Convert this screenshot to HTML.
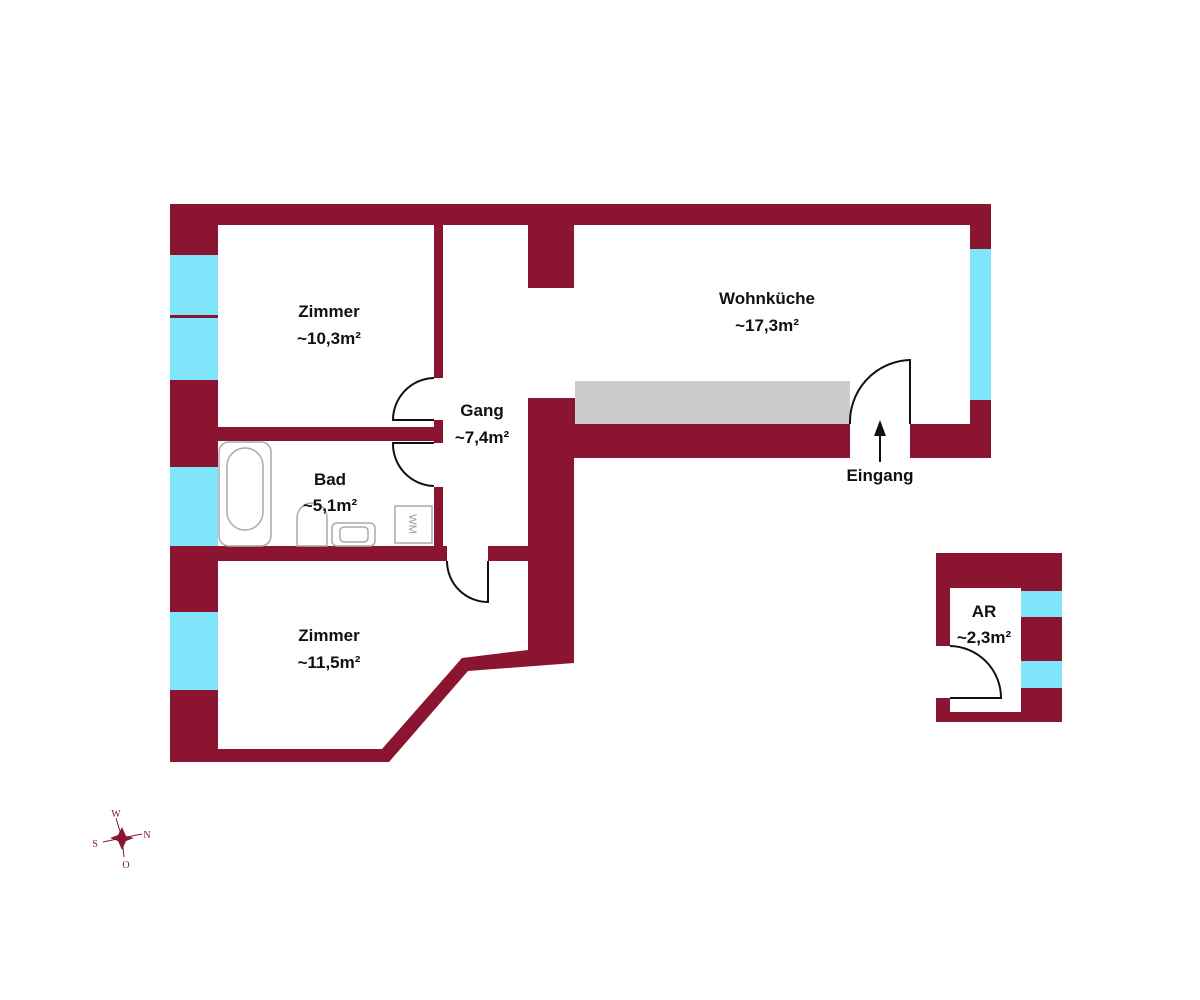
<!DOCTYPE html>
<html><head><meta charset="utf-8"><style>
html,body{margin:0;padding:0;background:#fff;}
svg{display:block;}
text{font-family:"Liberation Sans",sans-serif;font-weight:bold;font-size:17px;fill:#111;text-anchor:middle;}
</style></head><body>
<svg width="1200" height="1000" viewBox="0 0 1200 1000" xmlns="http://www.w3.org/2000/svg">
<rect width="1200" height="1000" fill="#fff"/>
<!-- walls -->
<polygon fill="#8B1530" points="170,204 991,204 991,458 574,458 574,663 468,671 389,762 170,762"/>
<!-- rooms -->
<g fill="#fff">
<rect x="218" y="225" width="216" height="202"/>
<rect x="218" y="441" width="216" height="105"/>
<polygon points="443,225 528,225 528,288 574,288 574,225 970,225 970,424 575,424 575,398 528,398 528,546 443,546"/>
<rect x="850" y="424" width="60" height="35"/>
<rect x="433" y="378" width="11" height="42"/>
<rect x="433" y="443" width="11" height="44"/>
<rect x="447" y="545" width="41" height="17"/>
<polygon points="218,561 528,561 528,650 462,658 382,749 218,749"/>
</g>
<!-- windows -->
<g fill="#80E5FA">
<rect x="170" y="255" width="48" height="60"/>
<rect x="170" y="318" width="48" height="62"/>
<rect x="170" y="467" width="48" height="79"/>
<rect x="170" y="612" width="48" height="78"/>
<rect x="970" y="249" width="21" height="151"/>
</g>
<!-- counter -->
<rect x="575" y="381" width="275" height="43" fill="#CCCCCC"/>
<!-- doors -->
<g fill="none" stroke="#111" stroke-width="2">
<path d="M434,378 A42,42 0 0 0 393,420 L434,420"/>
<path d="M434,443 L393,443 A42,42 0 0 0 434,486"/>
<path d="M447,561 A41,41 0 0 0 488,602 L488,561"/>
<path d="M850,424 A62,62 0 0 1 910,360 L910,424"/>
<path d="M950,646 A52,52 0 0 1 1001,698 L950,698"/>
</g>
<!-- arrow -->
<line x1="880" y1="462" x2="880" y2="432" stroke="#111" stroke-width="2"/>
<polygon points="880,420 874,436 886,436" fill="#111"/>
<!-- bath fixtures -->
<g fill="none" stroke="#aaa" stroke-width="1.5">
<rect x="219" y="442" width="52" height="104" rx="10"/>
<rect x="227" y="448" width="36" height="82" rx="18"/>
<path d="M297,546 L297,518 A15,15 0 0 1 327,518 L327,546 Z"/>
<rect x="332" y="523" width="43" height="23" rx="5"/>
<rect x="340" y="527" width="28" height="15" rx="4"/>
<rect x="395" y="506" width="37" height="37"/>
</g>
<text x="413" y="524" transform="rotate(90 413 524)" style="font-weight:normal;font-size:11px;fill:#999" dy="4">WM</text>
<!-- AR -->
<g>
<rect x="936" y="553" width="126" height="169" fill="#8B1530"/>
<rect x="950" y="588" width="71" height="124" fill="#fff"/>
<rect x="935" y="646" width="16" height="52" fill="#fff"/>
<rect x="1021" y="591" width="41" height="26" fill="#80E5FA"/>
<rect x="1021" y="661" width="41" height="27" fill="#80E5FA"/>
<path d="M950,646 A52,52 0 0 1 1001,698 L950,698" fill="none" stroke="#111" stroke-width="2"/>
</g>
<!-- labels -->
<text x="329" y="317">Zimmer</text>
<text x="329" y="344">~10,3m²</text>
<text x="482" y="416">Gang</text>
<text x="482" y="443">~7,4m²</text>
<text x="767" y="304">Wohnküche</text>
<text x="767" y="331">~17,3m²</text>
<text x="330" y="485">Bad</text>
<text x="330" y="511">~5,1m²</text>
<text x="329" y="641">Zimmer</text>
<text x="329" y="668">~11,5m²</text>
<text x="984" y="617">AR</text>
<text x="984" y="643">~2,3m²</text>
<text x="880" y="481">Eingang</text>
<!-- compass -->
<g fill="#8B1530">
<polygon points="122,827 126,836 134,838 126,841 122,850 118,841 110,838 118,835"/>
<line x1="116" y1="818" x2="122" y2="838" stroke="#8B1530" stroke-width="1"/>
<line x1="103" y1="842" x2="122" y2="838" stroke="#8B1530" stroke-width="1"/>
<line x1="142" y1="834" x2="122" y2="838" stroke="#8B1530" stroke-width="1"/>
<line x1="124" y1="857" x2="122" y2="838" stroke="#8B1530" stroke-width="1"/>
<text x="116" y="817" style="font-family:'Liberation Serif',serif;font-weight:normal;font-size:10px;fill:#8B1530">W</text>
<text x="147" y="838" style="font-family:'Liberation Serif',serif;font-weight:normal;font-size:10px;fill:#8B1530">N</text>
<text x="95" y="847" style="font-family:'Liberation Serif',serif;font-weight:normal;font-size:10px;fill:#8B1530">S</text>
<text x="126" y="868" style="font-family:'Liberation Serif',serif;font-weight:normal;font-size:10px;fill:#8B1530">O</text>
</g>
</svg>
</body></html>
